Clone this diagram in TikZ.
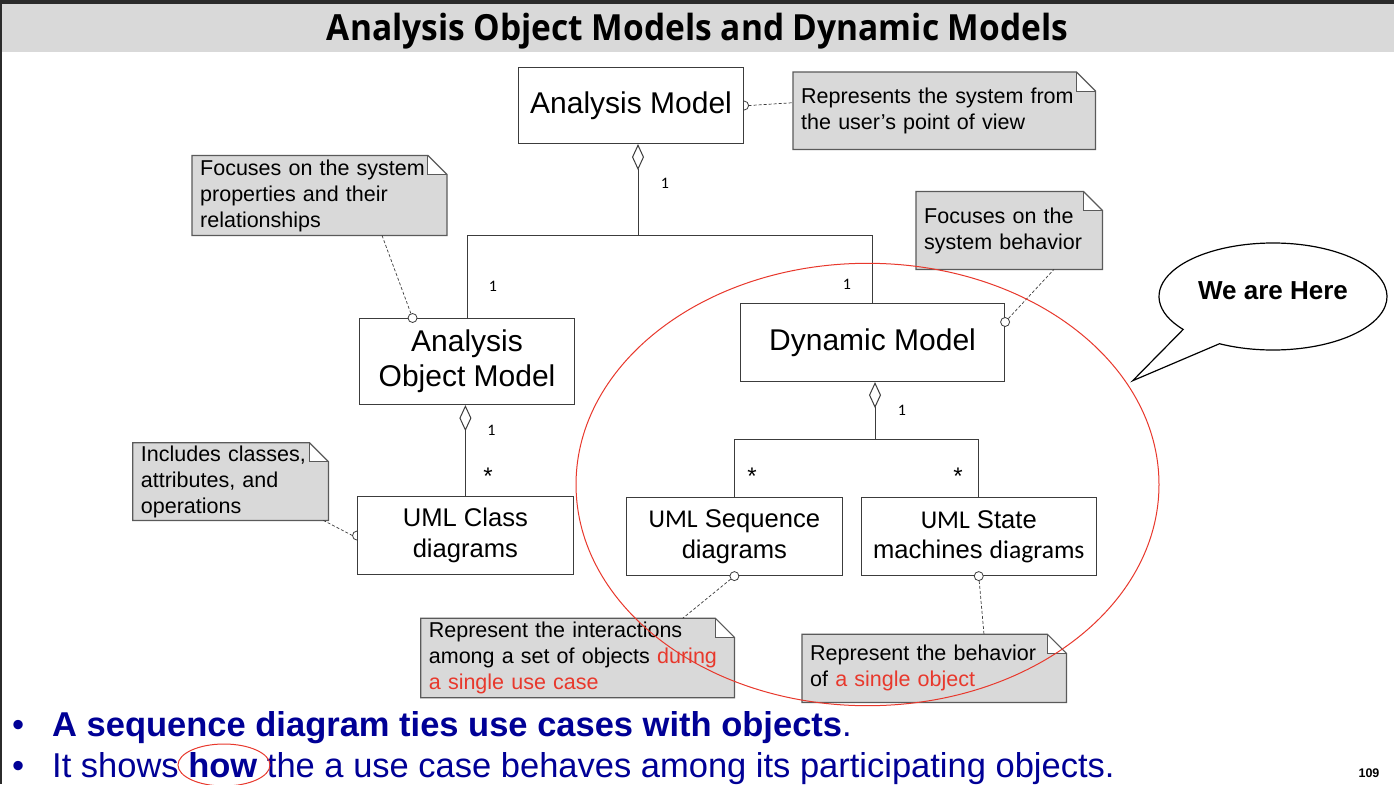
\documentclass[tikz,border=0pt]{standalone}
\usepackage{fontspec}
\usepackage{graphicx}
\setmainfont{Liberation Sans}
\newfontfamily\carlito{Carlito}
\newfontfamily\titlefont{Open Sans}
\usetikzlibrary{arrows.meta}

\definecolor{notegray}{HTML}{D9D9D9}
\definecolor{linegray}{HTML}{3C3C3C}
\definecolor{noteedge}{HTML}{5A5A5A}
\definecolor{hired}{HTML}{E8382C}
\definecolor{navy}{HTML}{000096}
\definecolor{frame}{HTML}{2B2B2B}

\newcommand\fsz[2]{\fontsize{#1}{#2}\selectfont}

% UML note: grey sheet with a folded top-right corner
\newcommand\notefold[1]{%
  \fill[white] ([xshift=-19pt]#1.north east) rectangle ([yshift=-19pt]#1.north east);
  \draw[noteedge, line width=1.2pt, line join=miter]
    (#1.north west) -- ([xshift=-19pt]#1.north east) -- ([yshift=-19pt]#1.north east)
    -- (#1.south east) -- (#1.south west) -- cycle;
  \draw[noteedge, line width=1pt] ([xshift=-19pt]#1.north east) |- ([yshift=-19pt]#1.north east);
}

\tikzset{
  classbox/.style={draw=linegray, line width=1.1pt, fill=white, inner sep=0pt,
    align=center, anchor=north west},
  bigtext/.style={font=\fsz{30}{35}},
  umltext/.style={font=\fsz{25.6}{30.5}},
  note/.style={fill=notegray, inner xsep=8pt, inner ysep=0pt, align=left,
    anchor=north west, font=\fsz{21.5}{26}},
  conn/.style={draw=linegray, line width=1pt},
  agg/.style={conn, {Diamond[open, length=26pt, width=12pt, line width=1pt]}-},
  pin/.style={circle, draw=linegray, fill=white, line width=0.8pt,
    minimum size=9pt, inner sep=0pt},
  pinline/.style={draw=linegray, line width=0.8pt},
  dashlink/.style={draw=linegray, line width=0.7pt, dash pattern=on 3pt off 2pt},
  mult/.style={font=\carlito\fsz{16}{16}, inner sep=0pt},
  many/.style={font=\fsz{24}{24}, inner sep=0pt},
  redring/.style={draw=hired, line width=1pt},
  bullettext/.style={font=\fsz{34.5}{40}, text=navy, inner sep=0pt, anchor=base west},
}

\begin{document}
\begin{tikzpicture}[x=1pt, y=1pt]
\useasboundingbox (0,0) rectangle (1394,-784);
\fill[white] (0,0) rectangle (1394,-784);

% slide frame and title bar
\fill[notegray] (0,-4) rectangle (1394,-51.7);
\fill[frame] (0,0) rectangle (1394,-4);
\fill[frame] (0,0) rectangle (2,-784);
\node[font=\titlefont\bfseries\fsz{36}{40}, inner sep=0pt, anchor=base] (title)
  at (697.5,-40.7) {\scalebox{0.93}[1]{Analysis Object Models and Dynamic Models}};

% model boxes
\node[classbox, bigtext, minimum width=225pt, minimum height=76pt] (AM)
  at (518,-67) {Analysis Model};
\node[classbox, bigtext, minimum width=215pt, minimum height=86pt] (AOM)
  at (359,-318) {Analysis\\Object Model};
\node[classbox, bigtext, minimum width=264pt, minimum height=78pt] (DM)
  at (740,-303) {Dynamic Model};
\node[classbox, umltext, minimum width=215.7pt, minimum height=78pt] (UCD)
  at (357,-496) {UML Class\\diagrams};
\node[classbox, umltext, minimum width=215.7pt, minimum height=78pt] (USD)
  at (626,-497) {{\carlito UML} Sequence\\diagrams};
\node[classbox, umltext, minimum width=235pt, minimum height=78pt] (USM)
  at (860.7,-497) {{\carlito UML} State\\machines {\carlito diagrams}};

% notes
\node[note, minimum width=302pt, minimum height=77pt, text width=286pt] (n1)
  at (793,-72) {Represents the system from\\the user’s point of view};
\notefold{n1}
\node[note, minimum width=254.5pt, minimum height=79.5pt, text width=238.5pt] (n2)
  at (192,-155.5) {Focuses on the system\\properties and their\\relationships};
\notefold{n2}
\node[note, minimum width=186pt, minimum height=77.5pt, text width=170pt] (n3)
  at (916,-191.5) {Focuses on the\\system behavior};
\notefold{n3}
\node[note, minimum width=195.3pt, minimum height=77.3pt, text width=179.3pt] (n4)
  at (132.7,-442.7) {Includes classes,\\attributes, and\\operations};
\notefold{n4}
\node[note, minimum width=313.3pt, minimum height=79pt, text width=297.3pt] (n5)
  at (420.7,-618.3) {Represent the interactions\\among a set of objects \textcolor{hired}{during}\\\textcolor{hired}{a single use case}};
\notefold{n5}
\node[note, minimum width=264pt, minimum height=67.7pt, text width=248pt] (n6)
  at (802,-634.3) {Represent the behavior\\of \textcolor{hired}{a single object}};
\notefold{n6}

% aggregations
\coordinate (j1) at (638,-235.5);
\draw[agg] (AM.south -| j1) -- (j1);
\draw[conn] (j1) -| (AOM.north);
\draw[conn] (j1) -| (DM.north);
\draw[agg] (AOM.south -| UCD.north) -- (UCD.north);
\coordinate (j3) at (875,-439);
\draw[agg] (DM.south -| j3) -- (j3);
\draw[conn] (j3) -| (USD.north);
\draw[conn] (j3) -| (USM.north);

% multiplicities
\node[mult] (m1) at (665,-183) {1};
\node[mult] (m2) at (493,-286.5) {1};
\node[mult] (m3) at (847,-284) {1};
\node[mult] (m4) at (491.5,-430) {1};
\node[mult] (m5) at (902,-410) {1};
\node[many] (m6) at (488,-476.5) {*};
\node[many] (m7) at (752,-476.5) {*};
\node[many] (m8) at (958,-476.5) {*};

% note attachments
\draw[pinline] ([yshift=4.5pt]AM.east) arc[start angle=90, end angle=-90, radius=4.5pt];
\draw[dashlink] ([xshift=4.5pt]AM.east) -- ([yshift=8pt]n1.west);
\node[pin] (p2) at ([xshift=-54.5pt]AOM.north) {};
\draw[dashlink] (p2) -- ([xshift=190pt]n2.south west);
\node[pin] (p3) at ([yshift=-19pt]DM.north east) {};
\draw[dashlink] (p3) -- ([xshift=138pt]n3.south west);
\draw[pinline] ([yshift=4.5pt]UCD.west) arc[start angle=90, end angle=270, radius=4.5pt];
\draw[dashlink] ([xshift=-4.5pt]UCD.west) -- ([xshift=-5pt]n4.south east);
\node[pin] (p5) at (USD.south) {};
\draw[dashlink] (p5) -- ([xshift=262pt]n5.north west);
\node[pin] (p6) at (USM.south) {};
\draw[dashlink] (p6) -- ([xshift=182pt]n6.north west);

% speech bubble
\coordinate (bc) at (1273,-296.5);
\coordinate (tip) at (1132.7,-380.7);
\draw[line width=1.2pt, fill=white, line join=miter]
  (bc) ++(242:114pt and 53.5pt)
  arc[start angle=242, end angle=578, x radius=114pt, y radius=53.5pt]
  -- (tip) -- cycle;
\node[font=\bfseries\fsz{26}{30}, inner sep=0pt] (bubtext) at ([yshift=6pt]bc) {We are Here};

% highlight of the dynamic part
\draw[redring] (867.5,-484.5) ellipse [x radius=291.5pt, y radius=221.2pt];

% bullet lines
\node[bullettext] (b1) at (12,-736.7) {•};
\node[bullettext] (t1) at (52,-736.7) {\textbf{A sequence diagram ties use cases with objects}.};
\node[bullettext] (b2) at (12,-777.5) {•};
\node[bullettext] (t2) at (52,-777.5) {It shows \textbf{how} the a use case behaves among its participating objects.};
\draw[redring] (224,-765) ellipse [x radius=46pt, y radius=21pt];

\node[font=\bfseries\fsz{12.5}{14}, inner sep=0pt, anchor=base] (pg) at (1369,-777) {109};
\end{tikzpicture}
\end{document}
